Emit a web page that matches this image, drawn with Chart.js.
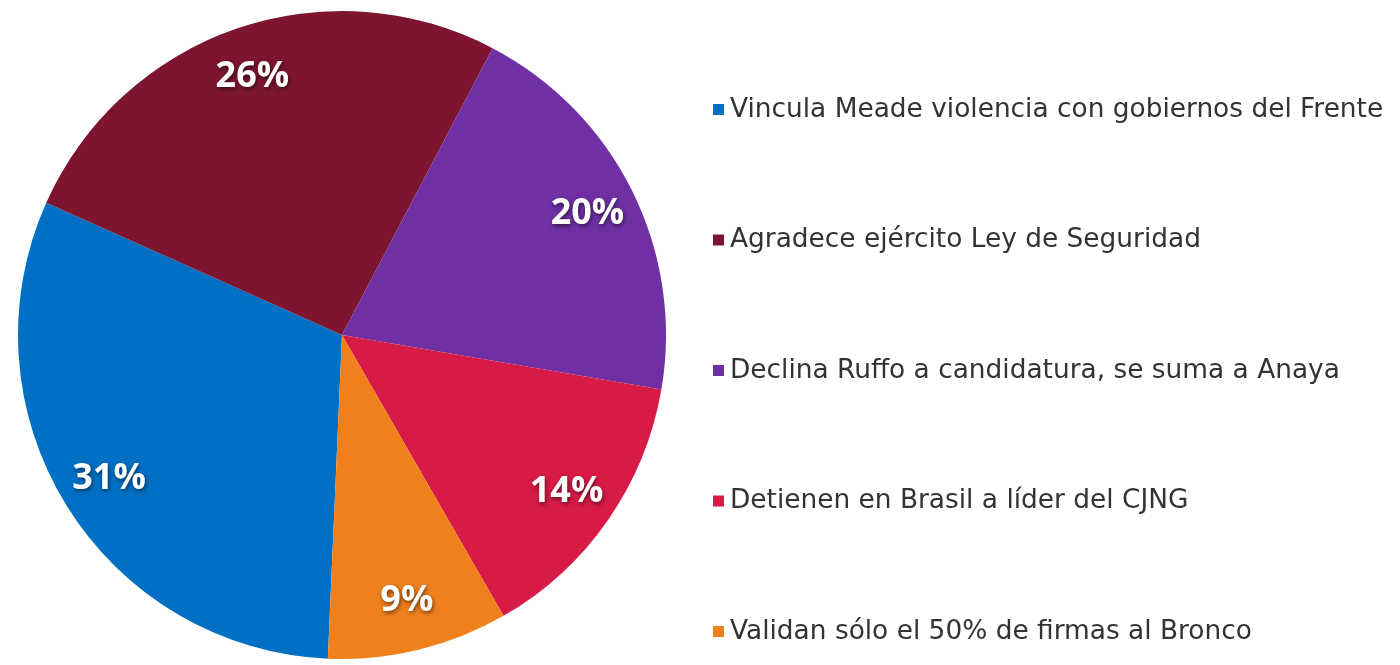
<!DOCTYPE html>
<html>
<head>
<meta charset="utf-8">
<script src="https://cdn.jsdelivr.net/npm/chart.js@4.4.1/dist/chart.umd.min.js"></script>
<style>
  html, body { margin: 0; padding: 0; background: #ffffff; }
  #wrap { position: relative; width: 1400px; height: 665px; }
</style>
</head>
<body>
<div id="wrap"><canvas id="c" width="1400" height="665"></canvas></div>
<script>
const categories = [
  "Vincula Meade violencia con gobiernos del Frente",
  "Agradece ejército Ley de Seguridad",
  "Declina Ruffo a candidatura, se suma a Anaya",
  "Detienen en Brasil a líder del CJNG",
  "Validan sólo el 50% de firmas al Bronco"
];
const shares = [31, 26, 20, 14, 9];
const sliceLabels = ["31%", "26%", "20%", "14%", "9%"];
const colors = ["#0070C4", "#7D1530", "#7030A4", "#D81B46", "#F0801C"];

const labelPlugin = {
  id: 'sliceLabels',
  afterDatasetsDraw(chart) {
    const ctx = chart.ctx;
    const meta = chart.getDatasetMeta(0);
    ctx.save();
    ctx.font = 'bold 36px "Open Sans", sans-serif';
    ctx.textAlign = 'center';
    ctx.textBaseline = 'middle';
    meta.data.forEach((arc, i) => {
      const p = arc.getProps(['x', 'y', 'startAngle', 'endAngle', 'outerRadius'], true);
      const mid = (p.startAngle + p.endAngle) / 2;
      const r = p.outerRadius * 0.845;
      const x = p.x + Math.cos(mid) * r;
      const y = p.y + Math.sin(mid) * r;
      ctx.shadowColor = 'rgba(0,0,0,0.55)';
      ctx.shadowBlur = 4;
      ctx.shadowOffsetX = 1;
      ctx.shadowOffsetY = 2;
      ctx.fillStyle = '#ffffff';
      ctx.fillText(sliceLabels[i], x, y);
    });
    ctx.restore();
  }
};

const legendPlugin = {
  id: 'sideLegend',
  afterDraw(chart) {
    const ctx = chart.ctx;
    const x0 = 713, y0 = 110, step = 130.5;
    ctx.save();
    ctx.font = '26.4px "DejaVu Sans", sans-serif';
    ctx.textBaseline = 'middle';
    ctx.textAlign = 'left';
    chart.data.labels.forEach((lab, i) => {
      const y = y0 + i * step;
      ctx.fillStyle = chart.data.datasets[0].backgroundColor[i];
      ctx.fillRect(x0, y - 6, 11, 11);
      ctx.fillStyle = '#333333';
      ctx.fillText(lab, x0 + 17, y);
    });
    ctx.restore();
  }
};

new Chart(document.getElementById('c'), {
  type: 'pie',
  data: {
    labels: categories,
    datasets: [{
      data: shares,
      backgroundColor: colors,
      borderWidth: 0
    }]
  },
  options: {
    responsive: false,
    animation: false,
    rotation: 182.5,
    layout: { padding: { left: 18, right: 734, top: 11, bottom: 6 } },
    plugins: {
      legend: { display: false },
      tooltip: { enabled: false }
    }
  },
  plugins: [labelPlugin, legendPlugin]
});
</script>
</body>
</html>
